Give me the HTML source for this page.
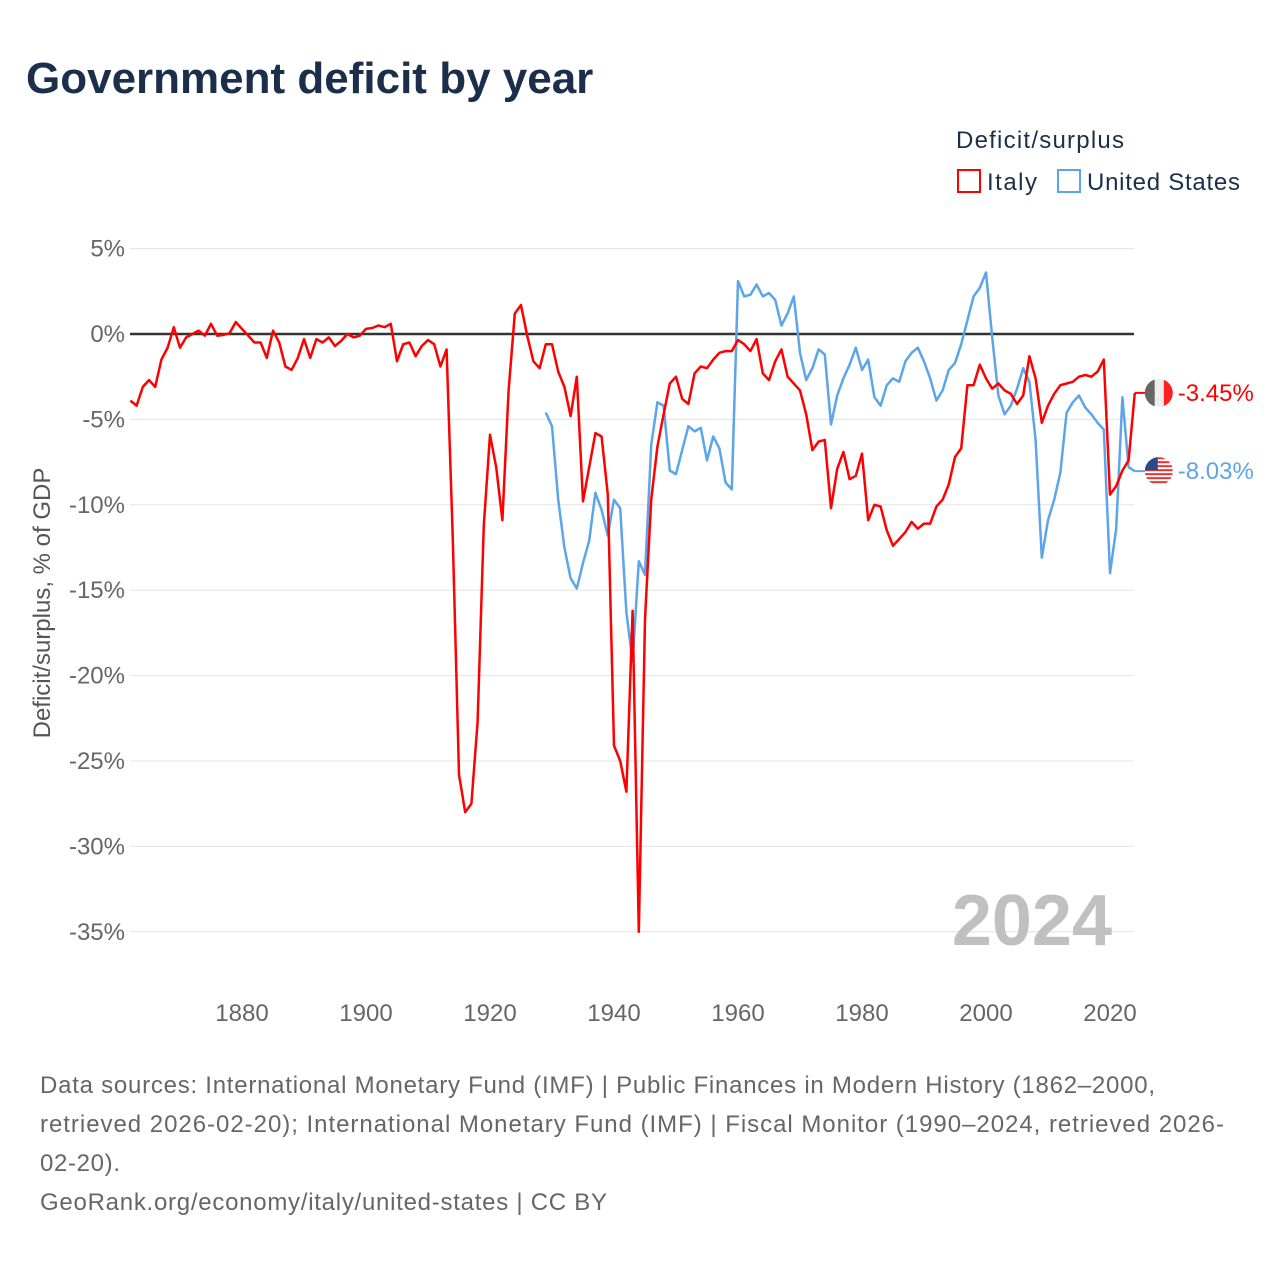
<!DOCTYPE html>
<html><head><meta charset="utf-8"><style>
body{margin:0;background:#fff;width:1280px;height:1280px;overflow:hidden;font-family:"Liberation Sans",sans-serif}
</style></head><body>
<svg width="1280" height="1280" font-family="Liberation Sans, sans-serif">
<text x="26" y="93" font-size="44" font-weight="bold" fill="#1b2f4b">Government deficit by year</text>
<text x="956" y="148" font-size="24" fill="#1b2f4b" textLength="168">Deficit/surplus</text>
<g><rect x="958" y="170" width="22" height="22" fill="none" stroke="#ff0000" stroke-width="2"/><text x="987" y="190" font-size="24" fill="#1b2f4b" textLength="50">Italy</text></g>
<g><rect x="1058" y="170" width="22" height="22" fill="none" stroke="#5ba5e8" stroke-width="2"/><text x="1087" y="190" font-size="24" fill="#1b2f4b" textLength="153">United States</text></g>
<g id="grid"></g><g id="axes"></g><g id="lines"></g>
<text x="1112" y="945" font-size="72" font-weight="bold" fill="#c0c0c0" text-anchor="end">2024</text>
<text transform="translate(50,603) rotate(-90)" font-size="24" fill="#555" text-anchor="middle">Deficit/surplus, % of GDP</text>
<g font-size="24" fill="#666">
<text x="40" y="1093" textLength="1115">Data sources: International Monetary Fund (IMF) | Public Finances in Modern History (1862–2000,</text>
<text x="40" y="1132" textLength="1184">retrieved 2026-02-20); International Monetary Fund (IMF) | Fiscal Monitor (1990–2024, retrieved 2026-</text>
<text x="40" y="1171" textLength="80">02-20).</text>
<text x="40" y="1210" textLength="567">GeoRank.org/economy/italy/united-states | CC BY</text>
</g>
</svg>
<script>
const italyStart=1862;
const italyValues=[-3.9,-4.2,-3.1,-2.7,-3.1,-1.5,-0.8,0.4,-0.8,-0.2,0,0.2,-0.1,0.6,-0.1,-0.05,0.05,0.7,0.3,-0.1,-0.5,-0.5,-1.4,0.2,-0.5,-1.9,-2.1,-1.4,-0.3,-1.4,-0.3,-0.5,-0.2,-0.7,-0.4,0,-0.2,-0.1,0.3,0.35,0.5,0.4,0.6,-1.6,-0.6,-0.5,-1.3,-0.7,-0.35,-0.6,-1.9,-0.9,-12,-25.8,-28,-27.5,-22.7,-11.2,-5.9,-7.8,-10.9,-3.3,1.2,1.7,-0.1,-1.6,-2,-0.6,-0.6,-2.2,-3.1,-4.8,-2.5,-9.8,-7.8,-5.8,-6,-9.4,-24.1,-25,-26.8,-16.2,-35,-16.7,-9.7,-6.6,-4.7,-2.9,-2.5,-3.8,-4.1,-2.3,-1.9,-2,-1.5,-1.1,-1,-1,-0.35,-0.6,-1,-0.3,-2.3,-2.7,-1.6,-0.9,-2.5,-2.9,-3.3,-4.7,-6.8,-6.3,-6.2,-10.2,-7.9,-6.9,-8.5,-8.3,-7,-10.9,-10,-10.1,-11.5,-12.4,-12,-11.6,-11,-11.4,-11.1,-11.1,-10.1,-9.7,-8.8,-7.2,-6.7,-3,-3,-1.8,-2.6,-3.2,-2.9,-3.3,-3.5,-4.1,-3.6,-1.3,-2.6,-5.2,-4.2,-3.5,-3,-2.9,-2.8,-2.5,-2.4,-2.5,-2.2,-1.5,-9.4,-8.9,-8,-7.4,-3.45];
const usStart=1929;
const usValues=[-4.6,-5.4,-9.7,-12.5,-14.3,-14.9,-13.4,-12.1,-9.3,-10.3,-11.8,-9.7,-10.2,-16.3,-19.2,-13.3,-14.1,-6.5,-4,-4.2,-8,-8.2,-6.8,-5.4,-5.7,-5.5,-7.4,-6,-6.7,-8.7,-9.1,3.1,2.2,2.3,2.9,2.2,2.4,2,0.5,1.2,2.2,-1.1,-2.7,-2,-0.9,-1.2,-5.3,-3.6,-2.6,-1.8,-0.8,-2.1,-1.5,-3.7,-4.2,-3,-2.6,-2.8,-1.6,-1.1,-0.8,-1.6,-2.6,-3.9,-3.3,-2.1,-1.7,-0.6,0.8,2.2,2.7,3.6,-0.2,-3.6,-4.7,-4.2,-3.2,-2,-2.8,-6.2,-13.1,-10.9,-9.7,-8.1,-4.6,-4,-3.6,-4.3,-4.7,-5.2,-5.6,-14,-11.4,-3.7,-7.8,-8.03];
const yTicks=[5,0,-5,-10,-15,-20,-25,-30,-35];
const xTicks=[1880,1900,1920,1940,1960,1980,2000,2020];
const NS='http://www.w3.org/2000/svg';
const X=yr=>242+(yr-1880)*6.2;
const Y=v=>334-v*17.08;
function mk(tag,attrs,parent){const e=document.createElementNS(NS,tag);for(const k in attrs)e.setAttribute(k,attrs[k]);parent.appendChild(e);return e;}
const grid=document.getElementById('grid'),axes=document.getElementById('axes'),lines=document.getElementById('lines');
yTicks.forEach(t=>{
 if(t!==0){const l=mk('line',{x1:130,x2:1134,y1:Y(t),y2:Y(t),stroke:'#e3e3e3','stroke-width':1},grid);
 
 }
 const tx=mk('text',{x:125,y:Y(t)+8,'font-size':24,fill:'#666','text-anchor':'end'},axes);
 tx.textContent=t+'%';
 
 
});
xTicks.forEach(t=>{
 const tx=mk('text',{x:X(t),y:1021,'font-size':24,fill:'#666','text-anchor':'middle'},axes);
 tx.textContent=t;
 
 
});
const zl=mk('line',{x1:130,x2:1134,y1:Y(0),y2:Y(0),stroke:'#333','stroke-width':2.5},axes);


function series(start,vals,color,name){
 const d=vals.map((v,i)=>(i?'L':'M')+X(start+i).toFixed(1)+','+Y(v).toFixed(1)).join('');
 const p=mk('path',{d:d,fill:'none',stroke:color,'stroke-width':2.5,'stroke-linejoin':'round'},lines);
 
 
}
series(usStart,usValues,'#5ba5e8','us-line');
series(italyStart,italyValues,'#ff0000','italy-line');
const defs=mk('defs',{},lines);
function endLabel(start,vals,color,name,flag){
 const v=vals[vals.length-1],x=X(start+vals.length-1),y=Y(v);
 const g=mk('g',{},lines);
 
 
 const cx=x+24;
 mk('line',{x1:x,x2:cx,y1:y,y2:y,stroke:color,'stroke-width':2},g);
 const cp=mk('clipPath',{id:'clip-'+flag},defs);
 mk('circle',{cx:cx,cy:y,r:14},cp);
 const f=mk('g',{'clip-path':'url(#clip-'+flag+')'},g);
 if(flag==='it'){
  mk('rect',{x:cx-14,y:y-14,width:10,height:28,fill:'#666'},f);
  mk('rect',{x:cx-4,y:y-14,width:9,height:28,fill:'#eee'},f);
  mk('rect',{x:cx+5,y:y-14,width:10,height:28,fill:'#ff2020'},f);
 }else{
  mk('rect',{x:cx-14,y:y-14,width:28,height:28,fill:'#fff'},f);
  for(let i=0;i<7;i++)mk('rect',{x:cx-14,y:y-14+i*4,width:28,height:2,fill:'#e33'},f);
  mk('rect',{x:cx-14,y:y-14,width:13,height:13,fill:'#2a4a8a'},f);
 }
 const t=mk('text',{x:cx+19,y:y+8,'font-size':24,fill:color},g);
 t.textContent=v.toFixed(2)+'%';
}
endLabel(italyStart,italyValues,'#ff0000','italy-end-label','it');
endLabel(usStart,usValues,'#5ba5e8','us-end-label','us');
</script>
</body></html>
